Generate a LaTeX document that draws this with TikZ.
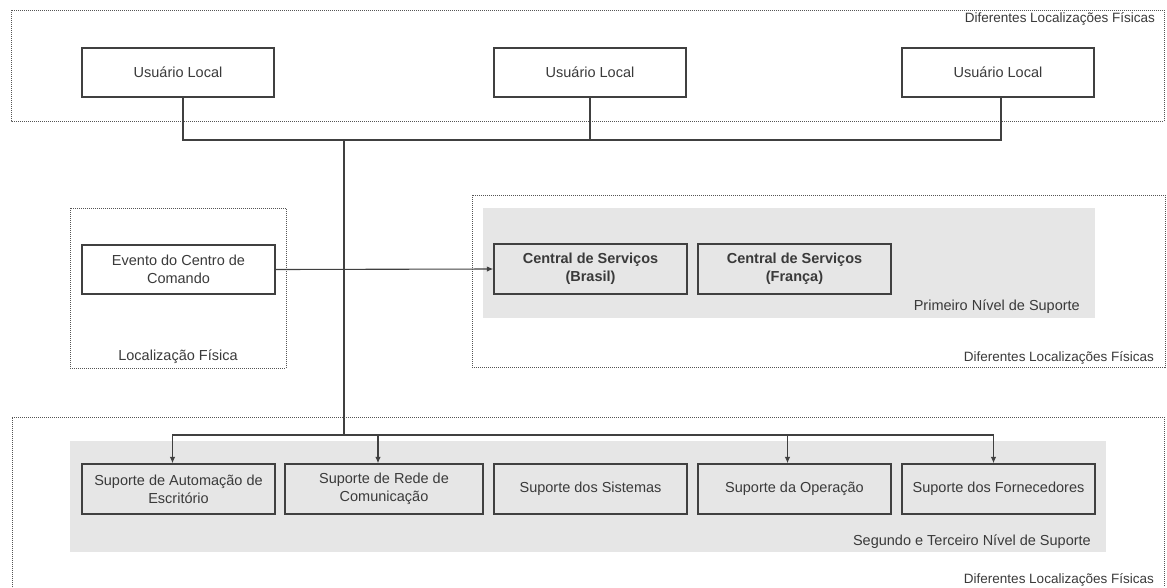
\documentclass[tikz,border=0pt]{standalone}
\usepackage{fontspec}
\setmainfont{Liberation Sans}
\usetikzlibrary{arrows.meta,calc}

\definecolor{ink}{HTML}{3A3A3A}
\definecolor{linegray}{HTML}{404040}
\definecolor{dotgray}{HTML}{555555}
\definecolor{panel}{HTML}{E6E6E6}

\tikzset{
  txt/.style={font=\fontsize{14.5}{18}\selectfont, text=ink, align=center},
  smalltxt/.style={font=\fontsize{13.5}{16}\selectfont, text=ink, inner sep=0pt},
  ubox/.style={txt, draw=linegray, line width=1.4pt, fill=white,
               minimum width=192pt, minimum height=49pt, inner sep=2pt},
  gbox/.style={txt, draw=linegray, line width=1.4pt, fill=panel,
               minimum width=193pt, minimum height=50pt, inner sep=2pt},
  boldtxt/.style={font=\fontsize{14.5}{18}\selectfont\bfseries},
  zone/.style={draw=dotgray, line width=1pt, dash pattern=on 1pt off 1pt},
  region/.style={fill=panel, draw=none},
  link/.style={draw=linegray, line width=1.1pt},
  arr/.style={link, -{Latex[length=6.5pt,width=5.5pt]}}
}

\begin{document}
\begin{tikzpicture}[x=1pt,y=-1pt]
\useasboundingbox (0,0) rectangle (1167,587);

% location zones (dotted frames)
\draw[zone, fill=white] (11,10) rectangle (1164,121);
\draw[zone, fill=white] (70,208) rectangle (286,368);
\draw[zone, fill=white] (472,195) rectangle (1165,367);
\draw[zone] (12,587) -- (12,417) -- (1164,417) -- (1164,587);

% support level panels
\fill[region] (483,208) rectangle (1095,318);
\fill[region] (70,441) rectangle (1106,552);

% zone captions
\node[smalltxt, anchor=east] (capA) at (1155,19) {Diferentes Localizações Físicas};
\node[smalltxt, anchor=east] (capB) at (1154,358) {Diferentes Localizações Físicas};
\node[smalltxt, anchor=east] (capC) at (1154,580) {Diferentes Localizações Físicas};
\node[txt, inner sep=0pt] (capL) at (178,357) {Localização Física};
\node[txt, inner sep=0pt, anchor=east] (capP) at (1080,307) {Primeiro Nível de Suporte};
\node[txt, inner sep=0pt, anchor=east] (capS) at (1091,542) {Segundo e Terceiro Nível de Suporte};

% local users
\node[ubox] (u1) at (178,72.5) {Usuário Local};
\node[ubox] (u2) at (590,72.5) {Usuário Local};
\node[ubox] (u3) at (998,72.5) {Usuário Local};

% command centre event
\node[ubox, minimum width=193pt] (ev) at (178.5,269.5) {Evento do Centro de\\Comando};

% first level: service desks
\node[gbox, boldtxt] (br) at (590.5,269) {Central de Serviços\\(Brasil)};
\node[gbox, boldtxt] (fr) at (794.5,269) {Central de Serviços\\(França)};

% second and third level
\node[gbox] (s1) at (178.5,489) {Suporte de Automação de\\Escritório};
\node[gbox, minimum width=198pt] (s2) at (384,489) {Suporte de Rede de\\Comunicação};
\node[gbox] (s3) at (590.5,489) {Suporte dos Sistemas};
\node[gbox] (s4) at (794.5,489) {Suporte da Operação};
\node[gbox] (s5) at (998.5,489) {Suporte dos Fornecedores};

% junctions of the connector tree
\coordinate (topj) at (344,140);
\coordinate (busj) at (344,435);

% users joined to the trunk
\draw[link] ([xshift=5pt]u1.south) |- ([xshift=3pt]u3.south |- topj) -- ([xshift=3pt]u3.south);
\draw[link] (u2.south) -- (u2.south |- topj);
\draw[link] (topj) -- (busj);

% event to first level
\draw[arr] (ev.east) -- (br.west);

% trunk to support groups
\draw[arr] (busj) -| ([xshift=-6pt]s1.north);
\draw[arr] (busj) -| ([xshift=-6pt]s2.north);
\draw[arr] (busj) -| ([xshift=-7pt]s4.north);
\draw[arr] (busj) -| ([xshift=-5pt]s5.north);
\end{tikzpicture}
\end{document}
